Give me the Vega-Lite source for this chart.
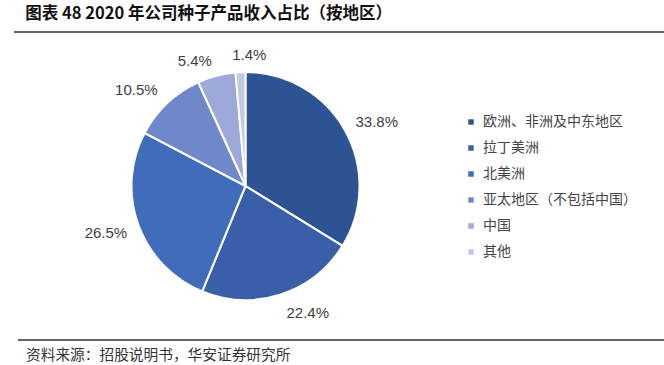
{
  "$schema": "https://vega.github.io/schema/vega-lite/v6.json",
  "width": 651,
  "height": 334,
  "padding": {"left": 13, "top": 5, "right": 0, "bottom": 0},
  "background": "white",
  "title": {
    "text": "图表 48 2020 年公司种子产品收入占比（按地区）",
    "anchor": "start",
    "dx": 12,
    "offset": 9,
    "fontSize": 16.5,
    "fontWeight": "bold",
    "font": "Noto Sans CJK SC",
    "color": "#111111"
  },
  "config": {"view": {"stroke": null}},
  "data": {
    "values": [
      {"idx": 1, "region": "欧洲、非洲及中东地区", "value": 33.8, "label": "33.8%"},
      {"idx": 2, "region": "拉丁美洲", "value": 22.4, "label": "22.4%"},
      {"idx": 3, "region": "北美洲", "value": 26.5, "label": "26.5%"},
      {"idx": 4, "region": "亚太地区（不包括中国）", "value": 10.5, "label": "10.5%"},
      {"idx": 5, "region": "中国", "value": 5.4, "label": "5.4%"},
      {"idx": 6, "region": "其他", "value": 1.4, "label": "1.4%"}
    ]
  },
  "layer": [
    {
      "mark": {"type": "arc", "x": 231.5, "y": 154, "outerRadius": 114, "stroke": "white", "strokeWidth": 2},
      "encoding": {
        "theta": {"field": "value", "type": "quantitative", "stack": true},
        "order": {"field": "idx", "type": "quantitative"},
        "color": {
          "field": "region",
          "type": "nominal",
          "scale": {
            "domain": ["欧洲、非洲及中东地区", "拉丁美洲", "北美洲", "亚太地区（不包括中国）", "中国", "其他"],
            "range": ["#2E5393", "#3A5FA8", "#416CBA", "#6E88C9", "#9DA9D8", "#C2C9E7"]
          },
          "legend": {
            "title": null,
            "orient": "none",
            "legendX": 450,
            "legendY": 83,
            "symbolType": "square",
            "symbolSize": 30,
            "symbolStrokeWidth": 0,
            "labelFont": "Noto Sans CJK SC",
            "labelFontSize": 14,
            "labelColor": "#444444",
            "labelOffset": 5,
            "rowPadding": 12,
            "padding": 0,
            "labelLimit": 300
          }
        }
      }
    },
    {
      "mark": {"type": "text", "x": 231.5, "y": 154, "radius": 140, "dx": 9, "dy": 4, "font": "Liberation Sans", "fontSize": 15, "color": "#404040"},
      "encoding": {
        "theta": {"field": "value", "type": "quantitative", "stack": true},
        "order": {"field": "idx", "type": "quantitative"},
        "text": {"condition": {"test": "datum.idx == 1", "field": "label"}, "value": ""}
      }
    },
    {
      "mark": {"type": "text", "x": 231.5, "y": 154, "radius": 140, "dx": 19, "dy": -6, "font": "Liberation Sans", "fontSize": 15, "color": "#404040"},
      "encoding": {
        "theta": {"field": "value", "type": "quantitative", "stack": true},
        "order": {"field": "idx", "type": "quantitative"},
        "text": {"condition": {"test": "datum.idx == 2", "field": "label"}, "value": ""}
      }
    },
    {
      "mark": {"type": "text", "x": 231.5, "y": 154, "radius": 140, "dx": -8, "dy": -1, "font": "Liberation Sans", "fontSize": 15, "color": "#404040"},
      "encoding": {
        "theta": {"field": "value", "type": "quantitative", "stack": true},
        "order": {"field": "idx", "type": "quantitative"},
        "text": {"condition": {"test": "datum.idx == 3", "field": "label"}, "value": ""}
      }
    },
    {
      "mark": {"type": "text", "x": 231.5, "y": 154, "radius": 140, "dx": -13, "dy": 6, "font": "Liberation Sans", "fontSize": 15, "color": "#404040"},
      "encoding": {
        "theta": {"field": "value", "type": "quantitative", "stack": true},
        "order": {"field": "idx", "type": "quantitative"},
        "text": {"condition": {"test": "datum.idx == 4", "field": "label"}, "value": ""}
      }
    },
    {
      "mark": {"type": "text", "x": 231.5, "y": 154, "radius": 140, "dx": -15, "dy": 10, "font": "Liberation Sans", "fontSize": 15, "color": "#404040"},
      "encoding": {
        "theta": {"field": "value", "type": "quantitative", "stack": true},
        "order": {"field": "idx", "type": "quantitative"},
        "text": {"condition": {"test": "datum.idx == 5", "field": "label"}, "value": ""}
      }
    },
    {
      "mark": {"type": "text", "x": 231.5, "y": 154, "radius": 140, "dx": 10, "dy": 9, "font": "Liberation Sans", "fontSize": 15, "color": "#404040"},
      "encoding": {
        "theta": {"field": "value", "type": "quantitative", "stack": true},
        "order": {"field": "idx", "type": "quantitative"},
        "text": {"condition": {"test": "datum.idx == 6", "field": "label"}, "value": ""}
      }
    },
    {
      "data": {"values": [{"pos": "top"}]},
      "mark": {"type": "rule", "color": "#333333", "strokeWidth": 1.5},
      "encoding": {"y": {"value": 0}, "x": {"value": 0}, "x2": {"value": 651}}
    },
    {
      "data": {"values": [{"pos": "bottom"}]},
      "mark": {"type": "rule", "color": "#333333", "strokeWidth": 1.5},
      "encoding": {"y": {"value": 308}, "x": {"value": 4}, "x2": {"value": 651}}
    },
    {
      "data": {"values": [{"source": "资料来源：招股说明书，华安证券研究所"}]},
      "mark": {"type": "text", "align": "left", "baseline": "middle", "font": "Noto Sans CJK SC", "fontSize": 14.7, "color": "#333333"},
      "encoding": {"text": {"field": "source"}, "x": {"value": 12}, "y": {"value": 324}}
    }
  ]
}
